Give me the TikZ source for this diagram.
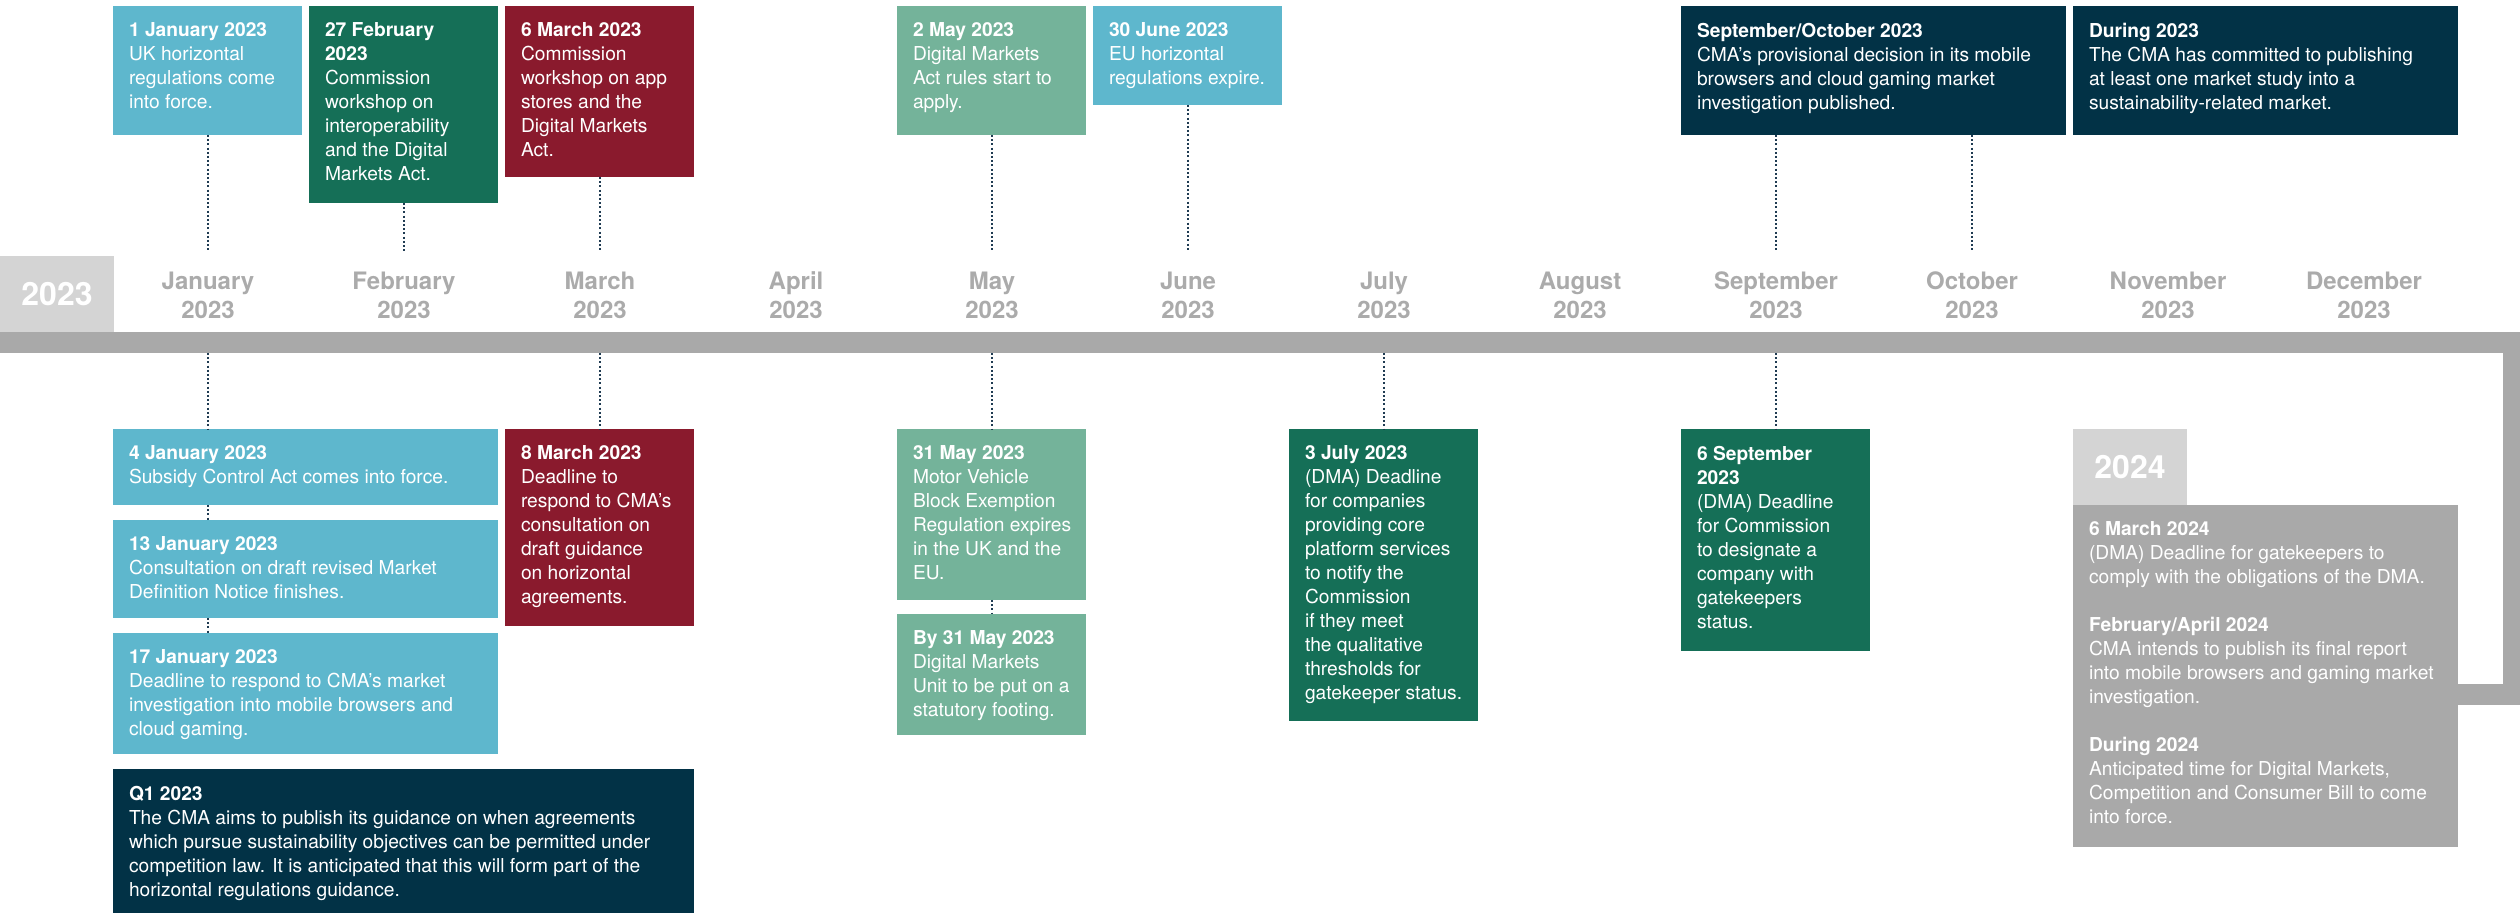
\documentclass[tikz,border=0pt]{standalone}
\usepackage{fontspec}
\setmainfont{TeX Gyre Heros}
\definecolor{lblue}{RGB}{94,183,205}
\definecolor{dgreen}{RGB}{21,111,87}
\definecolor{maroon}{RGB}{138,26,45}
\definecolor{sage}{RGB}{116,179,154}
\definecolor{navy}{RGB}{2,50,70}
\definecolor{bargray}{RGB}{169,169,169}
\definecolor{lgray}{RGB}{212,212,212}
\definecolor{monthgray}{RGB}{171,171,171}
\definecolor{dotc}{RGB}{31,59,82}
\tikzset{
  evb/.style={anchor=north west, inner sep=0pt, outer sep=0pt},
  evtxt/.style={anchor=north west, inner sep=0pt, outer sep=0pt, align=left, text=white, font=\fontsize{9.6}{12}\selectfont},
  month/.style={anchor=north, inner sep=0pt, align=center, text=monthgray, font=\bfseries\fontsize{12}{14.5}\selectfont},
  yearlab/.style={anchor=north west, inner sep=0pt, outer sep=0pt, fill=lgray, text=white, font=\bfseries\fontsize{16}{16}\selectfont},
  conn/.style={draw=dotc, line width=1pt, dash pattern=on 1pt off 1.1pt},
}
\newcommand{\evbox}[7]{%
  \node[evb, fill=#6, minimum width={(#4-#2)*0.5pt}, minimum height={(#5-#3)*0.5pt}] (#1) at (#2,#3) {};
  \node[evtxt] (#1t) at ([xshift=8pt,yshift=-8.5pt]#1.north west) {#7};
}
\begin{document}
\begin{tikzpicture}[x=0.5pt,y=-0.5pt]
\useasboundingbox (0,0) rectangle (2520,913);
% timeline bar
\fill[bargray] (0,332) rectangle (2520,353);
\fill[bargray] (2503,332) rectangle (2520,705);
\fill[bargray] (2458,684) rectangle (2520,705);
% year label
\node[yearlab, minimum width=57pt, minimum height=38pt] (y2023) at (0,256) {2023};
% months
\foreach \m [count=\i from 0] in {January,February,March,April,May,June,July,August,September,October,November,December}{
  \node[month] (mon\i) at (208+196*\i,271) {\rule{0pt}{9pt}\m\\2023};
  \coordinate (top\i) at (208+196*\i,251);
  \coordinate (bot\i) at (208+196*\i,353);
}
% top row
\evbox{jan1}{113}{6}{302}{135}{lblue}{{\bfseries 1 January 2023}\\UK horizontal\\regulations come\\into force.}
\evbox{feb27}{309}{6}{498}{203}{dgreen}{{\bfseries 27 February}\\{\bfseries 2023}\\Commission\\workshop on\\interoperability\\and the Digital\\Markets Act.}
\evbox{mar6}{505}{6}{694}{177}{maroon}{{\bfseries 6 March 2023}\\Commission\\workshop on app\\stores and the\\Digital Markets\\Act.}
\evbox{may2}{897}{6}{1086}{135}{sage}{{\bfseries 2 May 2023}\\Digital Markets\\Act rules start to\\apply.}
\evbox{jun30}{1093}{6}{1282}{105}{lblue}{{\bfseries 30 June 2023}\\EU horizontal\\regulations expire.}
\evbox{sepoct}{1681}{6}{2066}{135}{navy}{{\bfseries September/October 2023}\\CMA’s provisional decision in its mobile\\browsers and cloud gaming market\\investigation published.}
\evbox{dur23}{2073}{6}{2458}{135}{navy}{{\bfseries During 2023}\\The CMA has committed to publishing\\at least one market study into a\\sustainability-related market.}
% bottom row
\evbox{jan4}{113}{429}{498}{505}{lblue}{{\bfseries 4 January 2023}\\Subsidy Control Act comes into force.}
\evbox{jan13}{113}{520}{498}{618}{lblue}{{\bfseries 13 January 2023}\\Consultation on draft revised Market\\Definition Notice finishes.}
\evbox{jan17}{113}{633}{498}{754}{lblue}{{\bfseries 17 January 2023}\\Deadline to respond to CMA’s market\\investigation into mobile browsers and\\cloud gaming.}
\evbox{q1}{113}{769}{694}{913}{navy}{{\bfseries Q1 2023}\\The CMA aims to publish its guidance on when agreements\\which pursue sustainability objectives can be permitted under\\competition law. It is anticipated that this will form part of the\\horizontal regulations guidance.}
\evbox{mar8}{505}{429}{694}{626}{maroon}{{\bfseries 8 March 2023}\\Deadline to\\respond to CMA’s\\consultation on\\draft guidance\\on horizontal\\agreements.}
\evbox{may31}{897}{429}{1086}{600}{sage}{{\bfseries 31 May 2023}\\Motor Vehicle\\Block Exemption\\Regulation expires\\in the UK and the\\EU.}
\evbox{bymay31}{897}{614}{1086}{735}{sage}{{\bfseries By 31 May 2023}\\Digital Markets\\Unit to be put on a\\statutory footing.}
\evbox{jul3}{1289}{429}{1478}{721}{dgreen}{{\bfseries 3 July 2023}\\(DMA) Deadline\\for companies\\providing core\\platform services\\to notify the\\Commission\\if they meet\\the qualitative\\thresholds for\\gatekeeper status.}
\evbox{sep6}{1681}{429}{1870}{651}{dgreen}{{\bfseries 6 September}\\{\bfseries 2023}\\(DMA) Deadline\\for Commission\\to designate a\\company with\\gatekeepers\\status.}
\node[yearlab, minimum width=57pt, minimum height=38pt] (y2024) at (2073,429) {2024};
\evbox{y24}{2073}{505}{2458}{847}{bargray}{{\bfseries 6 March 2024}\\(DMA) Deadline for gatekeepers to\\comply with the obligations of the DMA.\\[12pt]{\bfseries February/April 2024}\\CMA intends to publish its final report\\into mobile browsers and gaming market\\investigation.\\[12pt]{\bfseries During 2024}\\Anticipated time for Digital Markets,\\Competition and Consumer Bill to come\\into force.}
% top connectors
\draw[conn] (top0 |- jan1.south) -- (top0);
\draw[conn] (top1 |- feb27.south) -- (top1);
\draw[conn] (top2 |- mar6.south) -- (top2);
\draw[conn] (top4 |- may2.south) -- (top4);
\draw[conn] (top5 |- jun30.south) -- (top5);
\draw[conn] (top8 |- sepoct.south) -- (top8);
\draw[conn] (top9 |- sepoct.south) -- (top9);
% bottom connectors
\draw[conn] (bot0) -- (bot0 |- jan4.north);
\draw[conn] (bot0 |- jan4.south) -- (bot0 |- jan13.north);
\draw[conn] (bot0 |- jan13.south) -- (bot0 |- jan17.north);
\draw[conn] (bot2) -- (bot2 |- mar8.north);
\draw[conn] (bot4) -- (bot4 |- may31.north);
\draw[conn] (bot4 |- may31.south) -- (bot4 |- bymay31.north);
\draw[conn] (bot6) -- (bot6 |- jul3.north);
\draw[conn] (bot8) -- (bot8 |- sep6.north);
\end{tikzpicture}
\end{document}
